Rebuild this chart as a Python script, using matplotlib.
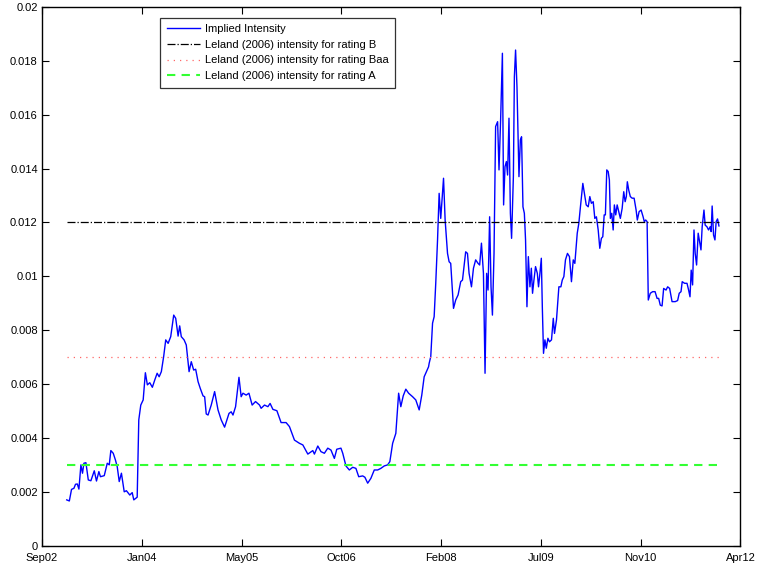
import numpy as np
import matplotlib
matplotlib.use("Agg")
import matplotlib.pyplot as plt
from matplotlib.ticker import FormatStrFormatter

plt.rcParams['font.family'] = ['Liberation Sans', 'DejaVu Sans']

# observation dates, as days after 2002-09-01
start = np.datetime64('2002-09-01')
obs_days = [
    124, 137, 148, 160, 168, 177, 185, 195, 203, 210, 220, 232, 245, 262, 273, 285,
    293, 312, 327, 337, 345, 357, 368, 377, 387, 398, 412, 423, 440, 452, 460, 477,
    485, 495, 507, 518, 528, 540, 553, 565, 577, 587, 598, 610, 620, 632, 645, 660,
    670, 682, 690, 698, 712, 723, 737, 748, 760, 770, 782, 793, 807, 815, 823, 832,
    848, 865, 882, 898, 915, 937, 948, 957, 970, 987, 998, 1007, 1023, 1037, 1053, 1070,
    1090, 1098, 1115, 1132, 1143, 1157, 1177, 1198, 1223, 1240, 1265, 1290, 1307, 1332, 1357, 1365,
    1382, 1398, 1415, 1432, 1448, 1465, 1477, 1498, 1507, 1523, 1540, 1557, 1573, 1587, 1607, 1618,
    1632, 1648, 1665, 1682, 1698, 1715, 1732, 1743, 1757, 1773, 1787, 1798, 1810, 1823, 1837, 1857,
    1873, 1890, 1903, 1915, 1937, 1940, 1948, 1957, 1965, 1973, 1982, 1990, 1998, 2012, 2020, 2032,
    2040, 2048, 2057, 2062, 2073, 2085, 2098, 2107, 2123, 2132, 2140, 2152, 2162, 2173, 2185, 2193,
    2202, 2212, 2220, 2228, 2235, 2243, 2250, 2257, 2265, 2273, 2283, 2290, 2298, 2307, 2313, 2320,
    2327, 2333, 2340, 2347, 2353, 2362, 2367, 2373, 2380, 2390, 2397, 2403, 2410, 2417, 2423, 2430,
    2437, 2445, 2452, 2458, 2465, 2473, 2482, 2488, 2495, 2502, 2507, 2513, 2520, 2527, 2535, 2543,
    2553, 2562, 2568, 2578, 2590, 2600, 2607, 2615, 2623, 2633, 2643, 2653, 2662, 2670, 2682, 2690,
    2698, 2710, 2718, 2727, 2737, 2745, 2753, 2762, 2770, 2778, 2787, 2795, 2803, 2810, 2817, 2823,
    2830, 2837, 2843, 2848, 2855, 2862, 2868, 2875, 2882, 2890, 2898, 2907, 2915, 2922, 2928, 2933,
    2940, 2948, 2957, 2967, 2977, 2983, 2992, 3002, 3012, 3018, 3025, 3032, 3038, 3048, 3060, 3072,
    3082, 3090, 3098, 3107, 3115, 3127, 3135, 3145, 3157, 3173, 3185, 3193, 3202, 3208, 3220, 3232,
    3240, 3247, 3253, 3260, 3267, 3273, 3280, 3288, 3295, 3302, 3308, 3317, 3323, 3332, 3340, 3348,
    3353, 3358, 3365, 3372, 3378, 3385, 3392,
]

implied = [
    0.00170, 0.00166, 0.00209, 0.00213, 0.00228, 0.00229, 0.00210, 0.00300, 0.00269, 0.00306, 0.00308, 0.00244, 0.00241, 0.00278, 0.00240, 0.00275,
    0.00256, 0.00260, 0.00306, 0.00300, 0.00353, 0.00343, 0.00318, 0.00293, 0.00238, 0.00269, 0.00200, 0.00204, 0.00188, 0.00197, 0.00170, 0.00180,
    0.00467, 0.00522, 0.00541, 0.00642, 0.00597, 0.00605, 0.00588, 0.00615, 0.00640, 0.00627, 0.00646, 0.00704, 0.00764, 0.00751, 0.00776, 0.00856,
    0.00844, 0.00778, 0.00816, 0.00776, 0.00764, 0.00745, 0.00646, 0.00683, 0.00652, 0.00655, 0.00609, 0.00584, 0.00556, 0.00553, 0.00489, 0.00485,
    0.00522, 0.00572, 0.00504, 0.00467, 0.00440, 0.00491, 0.00497, 0.00485, 0.00516, 0.00625, 0.00553, 0.00566, 0.00559, 0.00566, 0.00522, 0.00535,
    0.00522, 0.00510, 0.00522, 0.00516, 0.00528, 0.00506, 0.00501, 0.00457, 0.00457, 0.00442, 0.00392, 0.00380, 0.00374, 0.00340, 0.00353, 0.00340,
    0.00370, 0.00349, 0.00343, 0.00362, 0.00355, 0.00324, 0.00358, 0.00362, 0.00343, 0.00296, 0.00281, 0.00291, 0.00287, 0.00256, 0.00259, 0.00254,
    0.00232, 0.00250, 0.00281, 0.00281, 0.00287, 0.00296, 0.00300, 0.00312, 0.00380, 0.00417, 0.00566, 0.00516, 0.00556, 0.00581, 0.00566, 0.00553,
    0.00541, 0.00504, 0.00559, 0.00627, 0.00664, 0.00677, 0.00702, 0.00826, 0.00850, 0.00974, 0.01135, 0.01308, 0.01215, 0.01364, 0.01209, 0.01085,
    0.01054, 0.01048, 0.00937, 0.00881, 0.00912, 0.00931, 0.00980, 0.00986, 0.01091, 0.01085, 0.01011, 0.00961, 0.01030, 0.01061, 0.01048, 0.01042,
    0.01123, 0.01011, 0.00640, 0.01011, 0.00949, 0.01221, 0.00961, 0.00856, 0.01085, 0.01556, 0.01574, 0.01395, 0.01580, 0.01828, 0.01265, 0.01407,
    0.01426, 0.01376, 0.01587, 0.01234, 0.01141, 0.01370, 0.01741, 0.01840, 0.01704, 0.01370, 0.01506, 0.01518, 0.01258, 0.01234, 0.01135, 0.00887,
    0.01073, 0.00961, 0.01030, 0.00937, 0.00986, 0.01036, 0.01011, 0.00961, 0.01011, 0.01067, 0.00887, 0.00714, 0.00764, 0.00733, 0.00770, 0.00757,
    0.00764, 0.00844, 0.00788, 0.00838, 0.00961, 0.00961, 0.00986, 0.00999, 0.01061, 0.01085, 0.01073, 0.00980, 0.01061, 0.01048, 0.01160, 0.01197,
    0.01258, 0.01345, 0.01308, 0.01265, 0.01258, 0.01296, 0.01271, 0.01277, 0.01215, 0.01221, 0.01172, 0.01104, 0.01141, 0.01147, 0.01228, 0.01228,
    0.01395, 0.01389, 0.01358, 0.01215, 0.01234, 0.01172, 0.01265, 0.01228, 0.01265, 0.01240, 0.01215, 0.01252, 0.01314, 0.01277, 0.01296, 0.01351,
    0.01320, 0.01296, 0.01290, 0.01290, 0.01246, 0.01209, 0.01240, 0.01246, 0.01221, 0.01203, 0.01209, 0.01203, 0.00912, 0.00937, 0.00943, 0.00943,
    0.00918, 0.00918, 0.00893, 0.00890, 0.00955, 0.00949, 0.00961, 0.00955, 0.00906, 0.00906, 0.00910, 0.00937, 0.00943, 0.00980, 0.00974, 0.00974,
    0.00949, 0.00924, 0.01023, 0.00968, 0.01172, 0.01085, 0.01042, 0.01160, 0.01128, 0.01098, 0.01184, 0.01246, 0.01190, 0.01184, 0.01172, 0.01184,
    0.01166, 0.01261, 0.01153, 0.01135, 0.01203, 0.01213, 0.01187,
]

# Leland (2006) constant intensities
leland_B = 0.012
leland_Baa = 0.007
leland_A = 0.003

tick_labels = ['Sep02', 'Jan04', 'May05', 'Oct06', 'Feb08', 'Jul09', 'Nov10', 'Apr12']
tick_step_days = 500

dates = start + np.array(obs_days).astype('timedelta64[D]')
ticks = start + (np.arange(len(tick_labels)) * tick_step_days).astype('timedelta64[D]')

fig = plt.figure(figsize=(7.58, 5.69), dpi=100)
ax = fig.add_axes([0.0554, 0.041, 0.9215, 0.9468])

ax.plot(dates, implied, color='#0000ff', lw=1.0, label='Implied Intensity')
span = [dates[0], dates[-1]]
ax.plot(span, [leland_B] * 2, color='black', lw=0.9, ls='-.',
        label='Leland (2006) intensity for rating B')
ax.plot(span, [leland_Baa] * 2, color='#ff6666', lw=0.9, ls=(0, (1, 4)),
        label='Leland (2006) intensity for rating Baa')
ax.plot(span, [leland_A] * 2, color='#33ff33', lw=1.5, ls=(0, (4, 3)),
        label='Leland (2006) intensity for rating A')

ax.set_xlim(ticks[0], ticks[-1])
ax.set_xticks(ticks)
ax.set_xticklabels(tick_labels)
ax.set_ylim(0, 0.02)
ax.set_yticks(np.arange(0, 0.0201, 0.002))
ax.yaxis.set_major_formatter(FormatStrFormatter('%g'))
ax.tick_params(direction='in', top=True, right=True, length=5, width=0.8,
               labelsize=8)
ax.tick_params(axis='x', pad=5)
ax.tick_params(axis='y', pad=3)
for s in ax.spines.values():
    s.set_linewidth(1.0)

leg = ax.legend(loc='upper left', bbox_to_anchor=(0.169, 0.98), fontsize=8,
                fancybox=False, edgecolor='black', handlelength=3.0,
                borderpad=0.6, labelspacing=0.5, handletextpad=0.45,
                borderaxespad=0)
leg.get_frame().set_linewidth(0.9)

fig.savefig('out.png', dpi=100)
